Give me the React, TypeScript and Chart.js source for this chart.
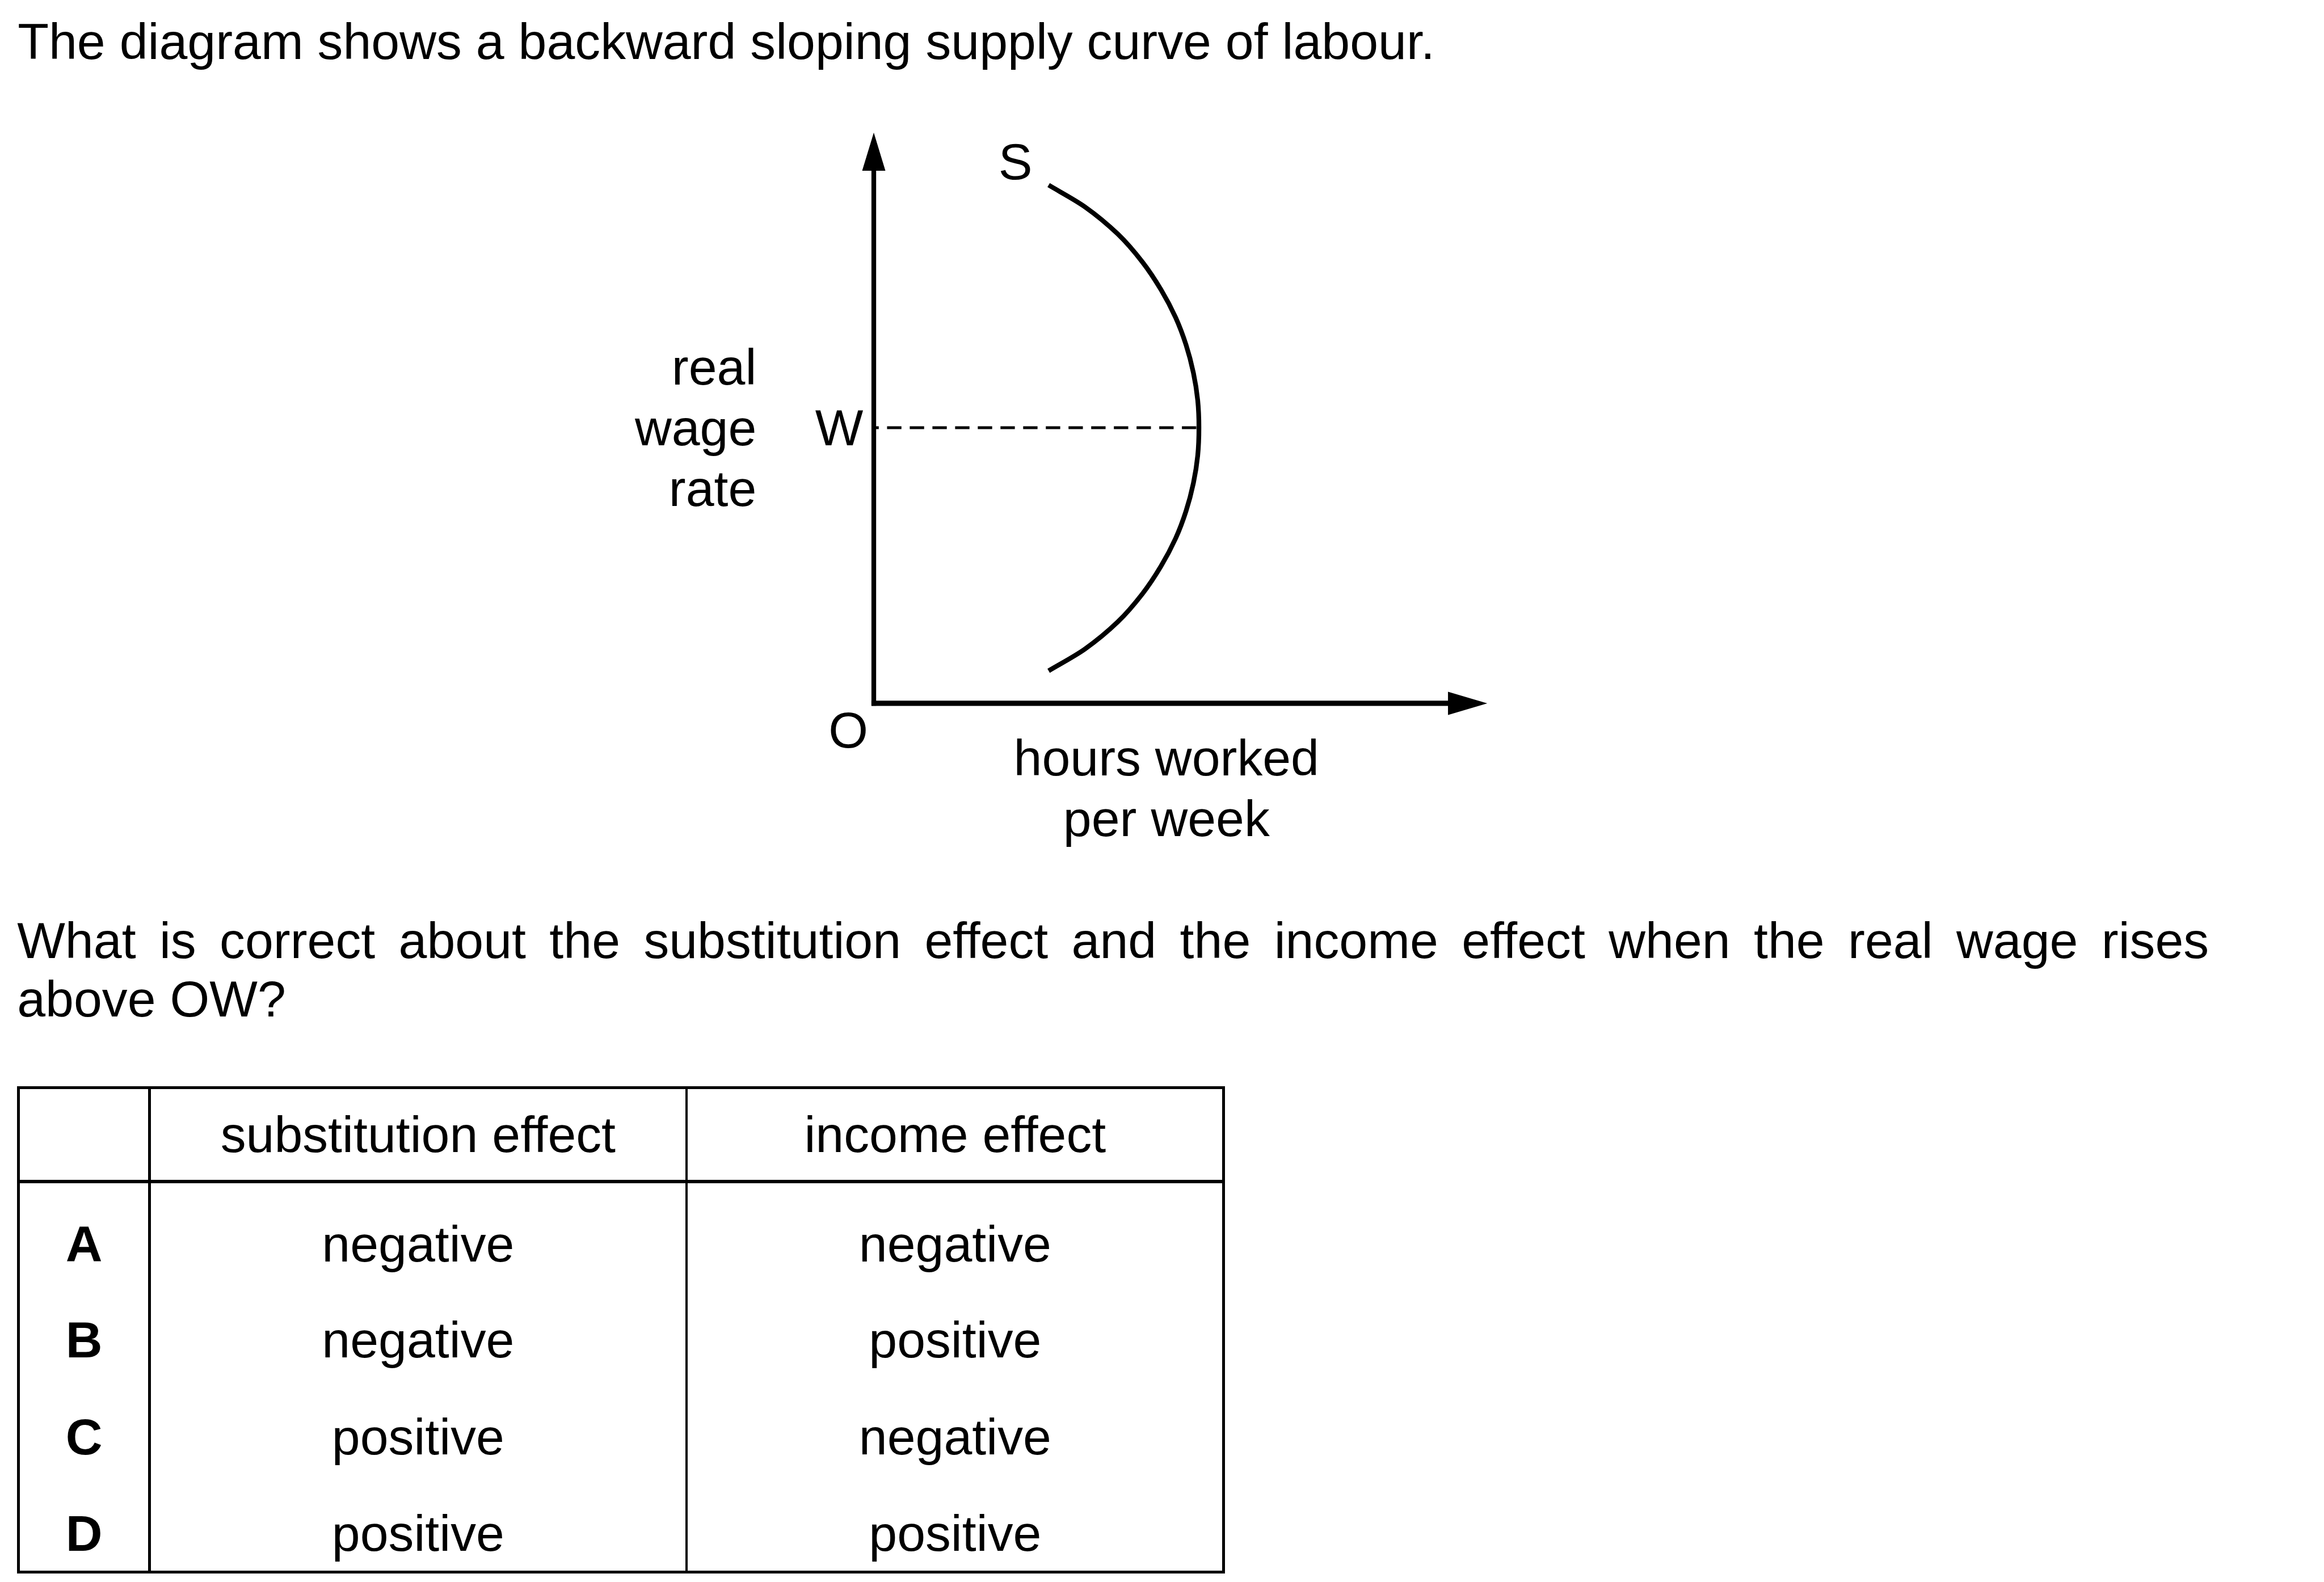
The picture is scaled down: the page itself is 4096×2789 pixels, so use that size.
import React, { useEffect, useRef } from 'react';
import { Chart, registerables } from 'chart.js';

Chart.register(...registerables);

const S = 0.975;
const p = (v: number) => v * S;
const FONT = '"Liberation Sans", Arial, Helvetica, sans-serif';
const FS = 92;

// ---------- data ----------
const X_MIN = 0;
const X_MAX = 100;
const Y_MIN = 0;
const Y_MAX = 100;

// backward-bending labour supply curve S (hours, real wage)
const supplyHours = [28.5, 34.4, 39.8, 43.8, 46.8, 49.2, 50.9, 52.1, 52.8, 53.0, 52.8, 52.1, 50.9, 49.2, 46.8, 43.8, 39.8, 34.4, 28.5];
const supplyWage = [90.8, 87.0, 82.2, 77.3, 72.5, 67.6, 62.8, 57.9, 53.1, 48.3, 43.4, 38.6, 33.7, 28.9, 24.0, 19.2, 14.3, 9.5, 5.7];

// wage level W and dashed guide
const W_WAGE = 48.3;
const wageLineHours = [0, 53.0];
const wageLineWage = [W_WAGE, W_WAGE];

const wTick = 'W';
const originLabel = 'O';
const curveLabel = 'S';
const yTitleLines = ['real', 'wage', 'rate'];
const xTitleLines = ['hours worked', 'per week'];

const titleText = 'The diagram shows a backward sloping supply curve of labour.';
const questionLine1 = 'What is correct about the substitution effect and the income effect when the real wage rises';
const questionLine2 = 'above OW?';

const tableHeaders = ['substitution effect', 'income effect'];
const optionKeys = ['A', 'B', 'C', 'D'];
const substitutionEffect = ['negative', 'negative', 'positive', 'positive'];
const incomeEffect = ['negative', 'positive', 'negative', 'positive'];

// ---------- layout (reference pixels) ----------
const CANVAS_L = 1100;
const CANVAS_T = 150;
const CANVAS_W = 1700;
const CANVAS_H = 1450;
const AREA_L = 1579;
const AREA_R = 2688;
const AREA_T = 240;
const AREA_B = 1272;

function Txt(props: { x: number; b: number; align?: 'left' | 'center' | 'right'; size?: number; bold?: boolean; children: React.ReactNode }) {
  const { x, b, align = 'left', size = FS, bold = false, children } = props;
  const top = b - 0.8465 * size;
  const style: React.CSSProperties = {
    position: 'absolute',
    top: p(top),
    fontSize: p(size),
    lineHeight: p(size) + 'px',
    fontFamily: FONT,
    fontWeight: bold ? 700 : 400,
    whiteSpace: 'nowrap',
    color: '#000',
  };
  if (align === 'left') {
    style.left = p(x);
  } else if (align === 'center') {
    style.left = p(x - 1500);
    style.width = p(3000);
    style.textAlign = 'center';
  } else {
    style.left = p(x - 3000);
    style.width = p(3000);
    style.textAlign = 'right';
  }
  return <div style={style}>{children}</div>;
}

function HL(props: { x1: number; x2: number; y: number; t: number }) {
  const { x1, x2, y, t } = props;
  return <div style={{ position: 'absolute', left: p(x1), top: p(y - t / 2), width: p(x2 - x1), height: p(t), background: '#000' }} />;
}
function VL(props: { x: number; y1: number; y2: number; t: number }) {
  const { x, y1, y2, t } = props;
  return <div style={{ position: 'absolute', left: p(x - t / 2), top: p(y1), width: p(t), height: p(y2 - y1), background: '#000' }} />;
}

const overlayPlugin = {
  id: 'overlayPlugin',
  afterDatasetsDraw(chart: any) {
    const { ctx } = chart;
    const xs = chart.scales.x;
    const ys = chart.scales.y;
    const x0 = xs.getPixelForValue(X_MIN);
    const y0 = ys.getPixelForValue(Y_MIN);
    const xTip = xs.getPixelForValue(X_MAX);
    const yTip = ys.getPixelForValue(Y_MAX);
    ctx.save();
    ctx.strokeStyle = '#000';
    ctx.fillStyle = '#000';
    ctx.lineCap = 'butt';
    // y axis
    ctx.lineWidth = p(8.5);
    ctx.beginPath();
    ctx.moveTo(x0, y0 + p(4.5));
    ctx.lineTo(x0, yTip + p(60));
    ctx.stroke();
    // x axis
    ctx.lineWidth = p(9.5);
    ctx.beginPath();
    ctx.moveTo(x0 - p(4.25), y0);
    ctx.lineTo(xTip - p(60), y0);
    ctx.stroke();
    // arrow heads
    ctx.beginPath();
    ctx.moveTo(x0, yTip);
    ctx.lineTo(x0 - p(21), yTip + p(69));
    ctx.lineTo(x0 + p(21), yTip + p(69));
    ctx.closePath();
    ctx.fill();
    ctx.beginPath();
    ctx.moveTo(xTip, y0);
    ctx.lineTo(xTip - p(71), y0 - p(21));
    ctx.lineTo(xTip - p(71), y0 + p(21));
    ctx.closePath();
    ctx.fill();
    // labels
    ctx.font = `${p(FS)}px ${FONT}`;
    ctx.textBaseline = 'alphabetic';
    const yW = ys.getPixelForValue(W_WAGE);
    ctx.textAlign = 'right';
    ctx.fillText(wTick, x0 - p(19), yW + p(32));
    yTitleLines.forEach((t, i) => {
      ctx.fillText(t, x0 - p(212), yW + p(32) + p(110) * (i - 1));
    });
    ctx.textAlign = 'center';
    const sx = xs.getPixelForValue(supplyHours[0]);
    const sy = ys.getPixelForValue(supplyWage[0]);
    ctx.fillText(curveLabel, sx - p(60), sy - p(11));
    ctx.fillText(originLabel, x0 - p(46), y0 + p(80));
    xTitleLines.forEach((t, i) => {
      ctx.fillText(t, x0 + p(529), y0 + p(130) + p(110) * i);
    });
    ctx.restore();
  },
};

function SupplyChart() {
  const ref = useRef<HTMLCanvasElement | null>(null);
  useEffect(() => {
    if (!ref.current) return;
    const cw = Math.round(p(CANVAS_W));
    const ch = Math.round(p(CANVAS_H));
    const left = p(AREA_L) - p(CANVAS_L);
    const top = p(AREA_T) - p(CANVAS_T);
    const right = cw - (p(AREA_R) - p(CANVAS_L));
    const bottom = ch - (p(AREA_B) - p(CANVAS_T));
    const chart = new Chart(ref.current, {
      type: 'line',
      data: {
        datasets: [
          {
            label: 'S',
            data: supplyHours.map((h, i) => ({ x: h, y: supplyWage[i] })),
            borderColor: '#000',
            borderWidth: p(8.5),
            pointRadius: 0,
            tension: 0.3,
            borderCapStyle: 'butt',
            fill: false,
          },
          {
            label: 'W',
            data: wageLineHours.map((h, i) => ({ x: h, y: wageLineWage[i] })),
            borderColor: '#000',
            borderWidth: p(5),
            borderDash: [p(26), p(15)],
            borderDashOffset: p(17),
            pointRadius: 0,
            borderCapStyle: 'butt',
            fill: false,
          },
        ],
      },
      options: {
        animation: false,
        responsive: true,
        maintainAspectRatio: false,
        devicePixelRatio: 1,
        layout: { padding: { left, top, right, bottom } },
        plugins: { legend: { display: false }, tooltip: { enabled: false }, title: { display: false } },
        events: [],
        scales: {
          x: { type: 'linear', min: X_MIN, max: X_MAX, display: false },
          y: { type: 'linear', min: Y_MIN, max: Y_MAX, display: false },
        },
      } as any,
      plugins: [overlayPlugin],
    } as any);
    return () => chart.destroy();
  }, []);
  return (
    <div
      style={{
        position: 'absolute',
        left: p(CANVAS_L),
        top: p(CANVAS_T),
        width: Math.round(p(CANVAS_W)),
        height: Math.round(p(CANVAS_H)),
      }}
    >
      <canvas ref={ref} />
    </div>
  );
}

export default function App() {
  const rowBaselines = [2282, 2455, 2631, 2805];
  const tL = 33.5, c1 = 270.5, c2 = 1241, tR = 2212;
  const tT = 1966.5, hB = 2136, tB = 2843;
  return (
    <div
      style={{
        position: 'absolute',
        left: 0,
        top: 0,
        width: 4096,
        height: 2789,
        background: '#fff',
        overflow: 'hidden',
        fontFamily: FONT,
      }}
    >
      <Txt x={32} b={108}>{titleText}</Txt>
      <SupplyChart />
      <div
        style={{
          position: 'absolute',
          left: p(31),
          top: p(1733 - 0.8465 * FS),
          width: p(3993 - 31),
          fontSize: p(FS),
          lineHeight: p(FS) + 'px',
          fontFamily: FONT,
          textAlign: 'justify',
          textAlignLast: 'justify',
          whiteSpace: 'normal',
          color: '#000',
        } as React.CSSProperties}
      >
        {questionLine1}
      </div>
      <Txt x={31} b={1839}>{questionLine2}</Txt>

      {/* table */}
      <HL x1={tL - 2.5} x2={tR + 2.5} y={tT} t={5} />
      <HL x1={tL - 2.5} x2={tR + 2.5} y={hB} t={6} />
      <HL x1={tL - 2.5} x2={tR + 2.5} y={tB} t={5} />
      <VL x={tL} y1={tT - 2.5} y2={tB + 2.5} t={5} />
      <VL x={c1} y1={tT - 2.5} y2={tB + 2.5} t={5} />
      <VL x={c2} y1={tT - 2.5} y2={tB + 2.5} t={5} />
      <VL x={tR} y1={tT - 2.5} y2={tB + 2.5} t={5} />
      <Txt x={(c1 + c2) / 2} b={2084} align="center">{tableHeaders[0]}</Txt>
      <Txt x={(c2 + tR) / 2} b={2084} align="center">{tableHeaders[1]}</Txt>
      {optionKeys.map((k, i) => (
        <React.Fragment key={k}>
          <Txt x={(tL + c1) / 2} b={rowBaselines[i]} align="center" bold>{k}</Txt>
          <Txt x={(c1 + c2) / 2} b={rowBaselines[i]} align="center">{substitutionEffect[i]}</Txt>
          <Txt x={(c2 + tR) / 2} b={rowBaselines[i]} align="center">{incomeEffect[i]}</Txt>
        </React.Fragment>
      ))}
    </div>
  );
}
